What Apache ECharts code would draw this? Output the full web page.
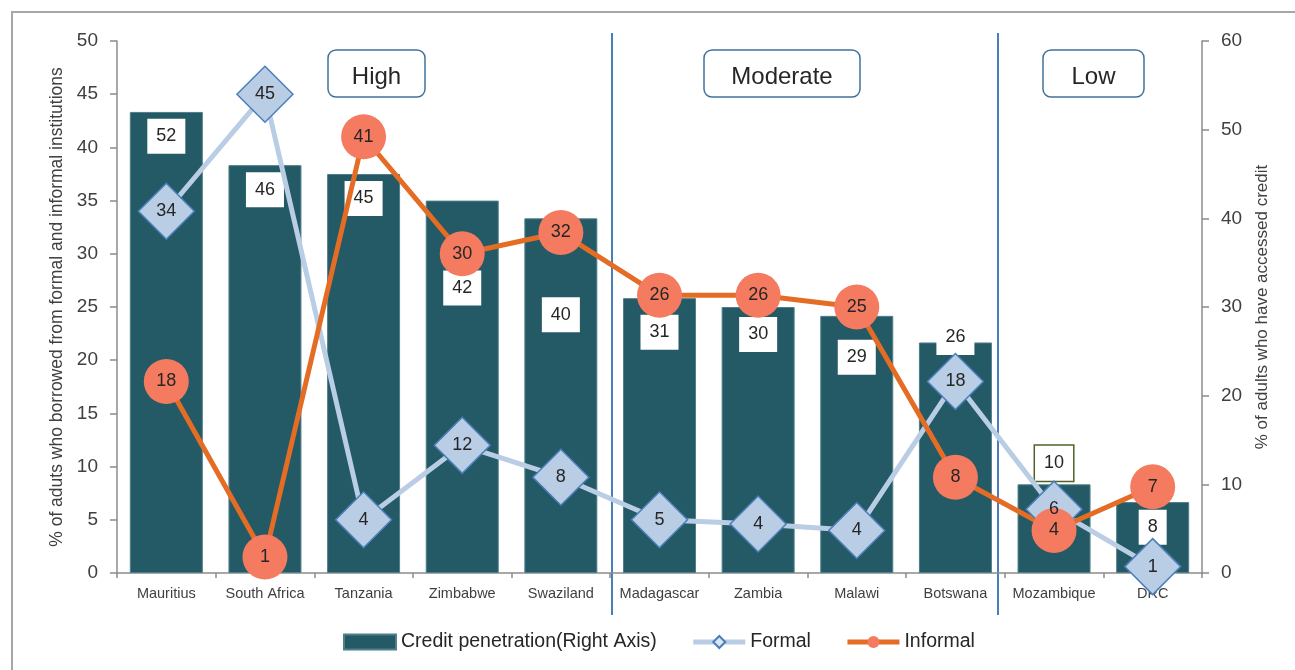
<!DOCTYPE html>
<html>
<head>
<meta charset="utf-8">
<script src="https://cdn.jsdelivr.net/npm/echarts@6/dist/echarts.min.js"></script>
<style>
  html, body { margin: 0; padding: 0; background: #fff; }
  #chart { width: 1295px; height: 670px; }
</style>
</head>
<body>
<div id="chart"></div>
<script>
// values
const countries = ['Mauritius', 'South Africa', 'Tanzania', 'Zimbabwe', 'Swaziland', 'Madagascar', 'Zambia', 'Malawi', 'Botswana', 'Mozambique', 'DRC'];
const creditPenetration = [52, 46, 45, 42, 40, 31, 30, 29, 26, 10, 8];
const formal = [34, 45, 5, 12, 9, 5, 4.6, 4, 18, 6, 0.6];
const formalLabels = ['34', '45', '4', '12', '8', '5', '4', '4', '18', '6', '1'];
const informal = [18, 1.5, 41, 30, 32, 26.1, 26.1, 25, 9, 4, 8.1];
const informalLabels = ['18', '1', '41', '30', '32', '26', '26', '25', '8', '4', '7'];
const groups = ['High', 'Moderate', 'Low'];

// label placement (px below bar top), style only
const barLabelShift = [6.7, 7, 7, 70, 79, 16.7, 10, 24, -22.5, -38.7, 7.7];

const FONT = '"Liberation Sans", Arial, sans-serif';
const TEXT = '#262626';
const AXIS = '#8c8c8c';

const chart = echarts.init(document.getElementById('chart'));

const barData = creditPenetration.map((v, i) => {
  const item = {
    value: v,
    label: { offset: [0, barLabelShift[i]] }
  };
  if (countries[i] === 'Mozambique') {
    item.label.borderColor = '#4f6228';
    item.label.borderWidth = 1.5;
  }
  return item;
});

const boxes = [
  { x: 328, w: 97 },
  { x: 704, w: 156 },
  { x: 1043, w: 101 }
];

const graphic = [
  {
    type: 'rect', z: -10, silent: true,
    shape: { x: 12, y: 12, width: 1300, height: 700 },
    style: { fill: 'none', stroke: '#a6a6a6', lineWidth: 2 }
  },
  { type: 'line', shape: { x1: 612, y1: 33, x2: 612, y2: 615 }, style: { stroke: '#4a7ebb', lineWidth: 2 } },
  { type: 'line', shape: { x1: 998, y1: 33, x2: 998, y2: 615 }, style: { stroke: '#4a7ebb', lineWidth: 2 } }
];
groups.forEach((g, i) => {
  const b = boxes[i];
  graphic.push({
    type: 'rect',
    shape: { x: b.x, y: 50, width: b.w, height: 47, r: 8 },
    style: { fill: '#fff', stroke: '#41719c', lineWidth: 1.5 }
  });
  graphic.push({
    type: 'text',
    style: {
      text: g, x: b.x + b.w / 2, y: 77,
      align: 'center', verticalAlign: 'middle',
      fontSize: 24, fontFamily: FONT, fill: TEXT
    }
  });
});

chart.setOption({
  animation: false,
  textStyle: { fontFamily: FONT, color: TEXT },
  grid: { left: 117, right: 93, top: 41, bottom: 97, containLabel: false },
  legend: {
    left: 338, top: 627,
    itemWidth: 52, itemHeight: 15, itemGap: 34,
    textStyle: { fontSize: 19.5, color: TEXT, fontFamily: FONT },
    data: [
      { name: 'Credit penetration(Right Axis)', icon: 'rect' },
      { name: 'Formal', lineStyle: { width: 5, color: '#b9cde5' }, itemStyle: { color: '#dce6f2', borderColor: '#4a7ebb', borderWidth: 2 } },
      { name: 'Informal', lineStyle: { width: 5, color: '#e46c25' } }
    ]
  },
  graphic: graphic,
  xAxis: {
    type: 'category',
    data: countries,
    axisLine: { lineStyle: { color: AXIS, width: 1.5 } },
    axisTick: { show: true, length: 5, lineStyle: { color: AXIS, width: 1.5 } },
    axisLabel: { fontSize: 14.5, color: '#404040', margin: 13, interval: 0 }
  },
  yAxis: [
    {
      type: 'value', min: 0, max: 50, interval: 5,
      name: '% of aduts who borrowed from formal and informal institutions',
      nameLocation: 'middle', nameGap: 45, nameRotate: 90,
      nameTextStyle: { fontSize: 17.5, color: '#404040' },
      axisLine: { show: true, lineStyle: { color: AXIS, width: 1.5 } },
      axisTick: { show: true, length: 7, lineStyle: { color: AXIS, width: 1.5 } },
      axisLabel: { fontSize: 19, color: '#404040', margin: 19 },
      splitLine: { show: false }
    },
    {
      type: 'value', min: 0, max: 60, interval: 10, position: 'right',
      name: '% of adults who have accessed credit',
      nameLocation: 'middle', nameGap: 52, nameRotate: 90,
      nameTextStyle: { fontSize: 17, color: '#404040' },
      axisLine: { show: true, lineStyle: { color: AXIS, width: 1.5 } },
      axisTick: { show: true, length: 7, lineStyle: { color: AXIS, width: 1.5 } },
      axisLabel: { fontSize: 19, color: '#404040', margin: 19 },
      splitLine: { show: false }
    }
  ],
  series: [
    {
      name: 'Credit penetration(Right Axis)',
      type: 'bar',
      yAxisIndex: 1,
      barWidth: '74%',
      data: barData,
      itemStyle: { color: '#235a66', borderColor: '#4f7f8a', borderWidth: 1 },
      label: {
        show: true,
        position: 'insideTop',
        distance: 0,
        fontSize: 18,
        color: TEXT,
        backgroundColor: '#fff',
        padding: [6, 9],
        lineHeight: 23
      }
    },
    {
      name: 'Formal',
      type: 'line',
      yAxisIndex: 0,
      data: formal,
      symbol: 'diamond',
      symbolSize: 56,
      lineStyle: { color: '#b9cde5', width: 5 },
      itemStyle: { color: '#b9cde5', borderColor: '#4a7ebb', borderWidth: 1.5 },
      label: {
        show: true, position: 'inside', fontSize: 18, color: TEXT,
        formatter: p => formalLabels[p.dataIndex]
      }
    },
    {
      name: 'Informal',
      type: 'line',
      yAxisIndex: 0,
      data: informal,
      symbol: 'circle',
      symbolSize: 45,
      lineStyle: { color: '#e46c25', width: 5 },
      itemStyle: { color: '#f47b60', borderWidth: 0 },
      label: {
        show: true, position: 'inside', fontSize: 18, color: TEXT,
        formatter: p => informalLabels[p.dataIndex]
      }
    }
  ]
});

window.addEventListener('resize', () => chart.resize());
</script>
</body>
</html>
